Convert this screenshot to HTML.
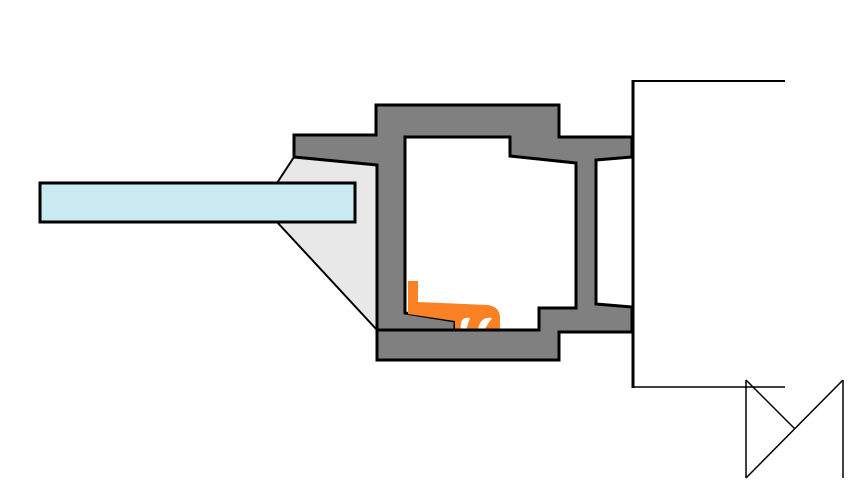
<!DOCTYPE html>
<html><head><meta charset="utf-8"><style>
html,body{margin:0;padding:0;background:#fff;}
svg{display:block}
</style></head><body>
<svg width="852" height="485" viewBox="0 0 852 485" xmlns="http://www.w3.org/2000/svg">
<polygon points="294,157 277,183 277,222 377,330 377,165" fill="#e8e8e8" stroke="#000" stroke-width="2"/>
<rect x="40" y="183" width="315" height="39" fill="#c8eaf0" stroke="#000" stroke-width="3"/>
<path d="M376,105 L559,105 L559,137 L632,137 L632,157 L596,160 L596,304 L632,307 L632,332 L559,332 L559,360 L377,360 L377,330
 L377,165 L294,157 L294,135 L376,135 Z
 M405,137 L405,313 L455,321 L455,330 L539,330 L539,308 L576,308 L576,163 L510,156 L510,137 Z"
 fill="#808080" fill-rule="evenodd" stroke="#000" stroke-width="3" stroke-linejoin="miter"/>
<path d="M408,281 L418,281 L418,302 L488,305 Q500,307 500,318 L500,330 L455,330 L455,321 L408,314 Z" fill="#fb8224"/>
<path d="M461,330 Q459,316 470,318 L466,330 Z M478,330 Q480,316 492,318 L484,330 Z" fill="#fff"/>
<line x1="377" y1="330" x2="540" y2="330" stroke="#000" stroke-width="3"/>
<line x1="633" y1="80" x2="633" y2="388" stroke="#000" stroke-width="3"/>
<line x1="632" y1="81" x2="785" y2="81" stroke="#000" stroke-width="2"/>
<line x1="632" y1="387" x2="785" y2="387" stroke="#000" stroke-width="1.5"/>
<g stroke="#000" stroke-width="1.5" fill="none">
<line x1="746" y1="380" x2="746" y2="478"/>
<line x1="746" y1="380" x2="795" y2="429"/>
<line x1="746" y1="478" x2="843" y2="380"/>
<line x1="843" y1="380" x2="843" y2="478"/>
</g>
</svg>
</body></html>
